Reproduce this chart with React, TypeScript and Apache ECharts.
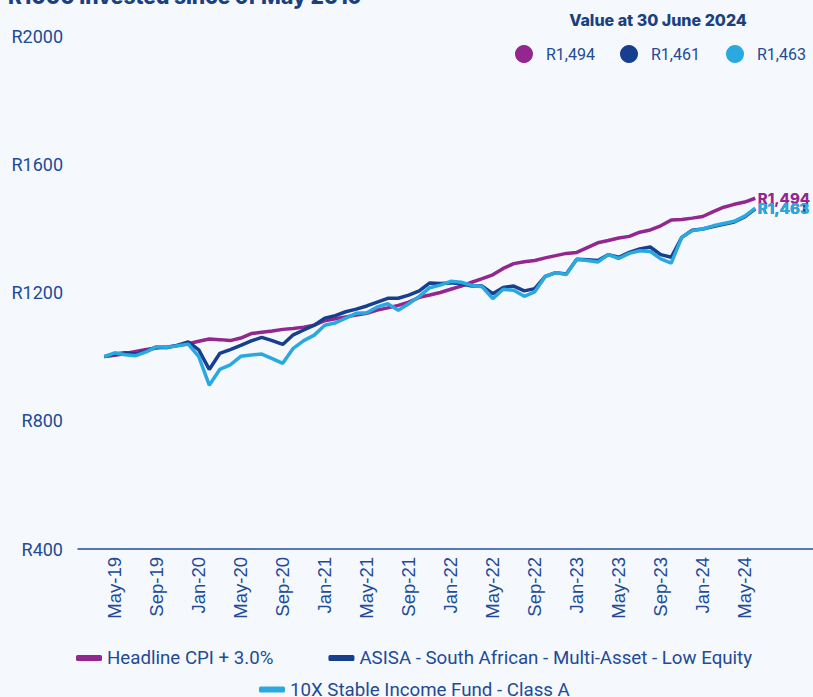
import React, { useEffect, useRef } from "react";
import * as echarts from "echarts";

const months = [
  "Apr-19","May-19","Jun-19","Jul-19","Aug-19","Sep-19","Oct-19","Nov-19","Dec-19",
  "Jan-20","Feb-20","Mar-20","Apr-20","May-20","Jun-20","Jul-20","Aug-20","Sep-20","Oct-20","Nov-20","Dec-20",
  "Jan-21","Feb-21","Mar-21","Apr-21","May-21","Jun-21","Jul-21","Aug-21","Sep-21","Oct-21","Nov-21","Dec-21",
  "Jan-22","Feb-22","Mar-22","Apr-22","May-22","Jun-22","Jul-22","Aug-22","Sep-22","Oct-22","Nov-22","Dec-22",
  "Jan-23","Feb-23","Mar-23","Apr-23","May-23","Jun-23","Jul-23","Aug-23","Sep-23","Oct-23","Nov-23","Dec-23",
  "Jan-24","Feb-24","Mar-24","Apr-24","May-24","Jun-24"
];
const padBefore = ["Feb-19", "Mar-19"];
const padAfter = ["Jul-24", "Aug-24", "Sep-24", "Oct-24", "Nov-24"];
const tickLabels = [
  "May-19","Sep-19","Jan-20","May-20","Sep-20","Jan-21","May-21","Sep-21",
  "Jan-22","May-22","Sep-22","Jan-23","May-23","Sep-23","Jan-24","May-24"
];

const cpi = [1000,1004,1010,1016,1022,1027,1030,1035,1040,1048,1055,1053,1050,1058,1072,1076,1080,1085,1088,1092,1098,1112,1118,1124,1130,1135,1145,1152,1160,1170,1185,1192,1200,1210,1220,1232,1243,1255,1275,1290,1296,1300,1308,1315,1322,1325,1340,1355,1362,1370,1375,1388,1395,1408,1426,1428,1432,1437,1452,1466,1475,1482,1494];
const asisa = [1000,1008,1012,1008,1018,1030,1028,1036,1046,1021,960,1010,1022,1035,1049,1060,1050,1038,1068,1083,1098,1120,1128,1140,1148,1158,1170,1182,1182,1192,1205,1230,1228,1230,1227,1220,1220,1196,1216,1220,1205,1212,1250,1262,1258,1304,1302,1300,1318,1310,1325,1336,1342,1318,1310,1372,1394,1398,1406,1413,1420,1436,1461];
const fund10x = [1000,1012,1006,1003,1015,1031,1029,1034,1039,1000,911,960,974,1001,1005,1008,994,979,1026,1050,1067,1098,1105,1120,1135,1137,1155,1165,1145,1165,1188,1215,1223,1235,1232,1222,1218,1181,1210,1207,1188,1202,1250,1262,1256,1304,1300,1295,1318,1306,1322,1330,1328,1305,1292,1372,1393,1398,1408,1415,1422,1438,1463];

const seriesNames = [
  "Headline CPI + 3.0%",
  "ASISA - South African - Multi-Asset - Low Equity",
  "10X Stable Income Fund - Class A",
];
const colors = ["#93278F", "#173F8F", "#29A9E0"];
const yTicks = { min: 400, max: 2000, step: 400 };

const TEXT = "#234a96";
const fmt = (v: number) => "R" + v.toLocaleString("en-US");

export default function App() {
  const ref = useRef<HTMLDivElement>(null);
  useEffect(() => {
    if (!ref.current) return;
    const chart = echarts.init(ref.current, null, { renderer: "svg" });
    const cats = [...padBefore, ...months, ...padAfter];
    const build = (arr: number[]) => [
      ...padBefore.map(() => "-"),
      ...arr,
      ...padAfter.map(() => "-"),
    ];
    const all = [cpi, asisa, fund10x];
    const lastVals = all.map((a) => a[a.length - 1]);
    const lastCat = months[months.length - 1];
    const circX = [524, 629, 735];
    const legendText = { color: TEXT, fontSize: 18.7, fontFamily: "Roboto" };
    chart.setOption({
      animation: false,
      backgroundColor: "#F5F9FE",
      color: colors,
      grid: { left: 78, right: 0, top: 36, bottom: 148, containLabel: false },
      xAxis: {
        type: "category",
        data: cats,
        boundaryGap: true,
        axisTick: { show: false },
        axisLine: { lineStyle: { color: "#1f4e9c", width: 1.5 } },
        axisLabel: {
          rotate: 90,
          margin: 8,
          color: TEXT,
          fontSize: 18.5,
          fontFamily: "Liberation Sans",
          interval: (_i: number, v: string) => tickLabels.includes(v),
        },
        splitLine: { show: false },
      },
      yAxis: {
        type: "value",
        min: yTicks.min,
        max: yTicks.max,
        interval: yTicks.step,
        axisLine: { show: false },
        axisTick: { show: false },
        splitLine: { show: false },
        axisLabel: {
          margin: 15,
          color: TEXT,
          fontSize: 18,
          fontFamily: "Roboto",
          formatter: (v: number) => "R" + v,
        },
      },
      legend: [
        {
          data: [seriesNames[0], seriesNames[1]],
          left: 76,
          top: 648,
          padding: 0,
          itemGap: 55,
          itemWidth: 26,
          itemHeight: 6,
          icon: "roundRect",
          textStyle: { ...legendText, lineHeight: 20 },
        },
        {
          data: [seriesNames[2]],
          left: 259,
          top: 680,
          padding: 0,
          itemWidth: 26,
          itemHeight: 6,
          icon: "roundRect",
          textStyle: { ...legendText, lineHeight: 17 },
        },
      ],
      graphic: [
        {
          type: "text",
          left: 8,
          top: -14,
          style: {
            text: "R1000 invested since of May 2019",
            font: "800 21px Inter",
            fill: "#1c3f7e",
          },
        },
        {
          type: "text",
          x: 658,
          y: 20,
          style: {
            text: "Value at 30 June 2024",
            font: "800 16px Inter",
            fill: "#1c3f7e",
            align: "center",
            verticalAlign: "middle",
          },
        },
        ...lastVals.flatMap((v, i) => [
          {
            type: "circle",
            shape: { cx: circX[i], cy: 54, r: 9 },
            style: { fill: colors[i] },
          },
          {
            type: "text",
            x: circX[i] + 22,
            y: 54,
            style: {
              text: fmt(v),
              font: "16px Roboto",
              fill: TEXT,
              verticalAlign: "middle",
            },
          },
        ]),
      ],
      series: all.map((arr, i) => ({
        name: seriesNames[i],
        type: "line",
        data: build(arr),
        symbol: "none",
        lineStyle: { width: 3.5, color: colors[i] },
        itemStyle: { color: colors[i] },
        markPoint: {
          symbol: "circle",
          symbolSize: 1,
          itemStyle: { color: "rgba(0,0,0,0)" },
          silent: true,
          data: [
            {
              coord: [lastCat, lastVals[i]],
              value: lastVals[i],
              label: {
                show: true,
                position: "right",
                distance: 2,
                formatter: fmt(lastVals[i]),
                color: colors[i],
                fontSize: 15,
                fontWeight: 800,
                fontFamily: "Inter",
              },
            },
          ],
        },
      })),
    });
    return () => chart.dispose();
  }, []);
  return (
    <div
      ref={ref}
      style={{ position: "absolute", left: 0, top: 0, width: 813, height: 697 }}
    />
  );
}
